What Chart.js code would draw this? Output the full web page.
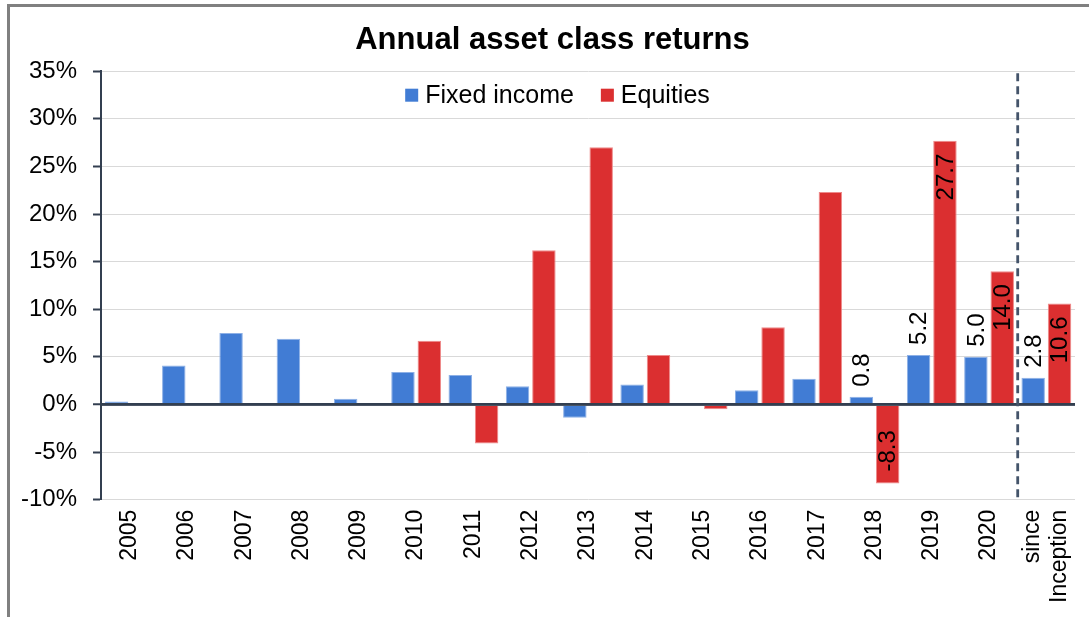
<!DOCTYPE html>
<html>
<head>
<meta charset="utf-8">
<script src="https://cdn.jsdelivr.net/npm/chart.js@4.4.1/dist/chart.umd.min.js"></script>
<style>
  html, body { margin: 0; padding: 0; background: #ffffff; overflow: hidden; width: 1089px; height: 617px; position: relative; }
  #frame { position: absolute; left: 7px; top: 4px; width: 1100px; height: 640px;
           border-top: 3px solid #808080; border-left: 3px solid #808080; background: #fff; }
  #clip { position: absolute; left: 0; top: 7px; width: 1077px; height: 610px; overflow: hidden; }
  #wrap { position: absolute; left: -8px; top: 0; width: 1121px; height: 610px; }
</style>
</head>
<body>
<div id="frame"></div>
<div id="clip"><div id="wrap"><canvas id="c"></canvas></div></div>
<script>
// ---- data ----
const categories = ['2005','2006','2007','2008','2009','2010','2011','2012','2013','2014','2015','2016','2017','2018','2019','2020',['since','Inception']];
const fixedIncome = [0.3, 4.1, 7.5, 6.9, 0.6, 3.4, 3.1, 1.9, -1.4, 2.1, 0.0, 1.5, 2.7, 0.8, 5.2, 5.0, 2.8];
const equities    = [null, null, null, null, null, 6.7, -4.1, 16.2, 27.0, 5.2, -0.5, 8.1, 22.3, -8.3, 27.7, 14.0, 10.6];
const seriesNames = ['Fixed income', 'Equities'];
const labelledIndices = [13, 14, 15, 16];
const dividerAfterIndex = 15;
const yTicks = { min: -10, max: 35, step: 5 };
const chartTitle = 'Annual asset class returns';

// ---- styles ----
const FONT = "'Liberation Sans', Arial, sans-serif";
const BLUE = '#417cd4';
const RED = '#db2f30';
const AXIS = '#333f50';
const GRID = '#d9d9d9';

const tweakPlugin = {
  id: 'tweak',
  afterLayout(chart) {
    // title is centred on the full (cropped) chart width in the reference
    const t = chart.titleBlock;
    if (t) { t.left += 12.5; t.right += 12.5; }
  },
  beforeDraw(chart) {
    // centre multi-line rotated category labels on their tick
    const xs = chart.scales.x;
    xs.getLabelItems().forEach(it => {
      if (Array.isArray(it.label) && it.label.length > 1 && !it._centred) {
        it.options.translation[0] -= (it.label.length - 1) * it.font.lineHeight / 2;
        it._centred = true;
      }
    });
  }
};

const overlayPlugin = {
  id: 'overlay',
  afterDatasetsDraw(chart) {
    const ctx = chart.ctx;
    const area = chart.chartArea;
    const ys = chart.scales.y, xs = chart.scales.x;
    ctx.save();
    // zero line on top of bars
    const y0 = ys.getPixelForValue(0);
    ctx.strokeStyle = AXIS; ctx.lineWidth = 2.5;
    ctx.beginPath(); ctx.moveTo(area.left, y0); ctx.lineTo(area.right, y0); ctx.stroke();
    // dashed divider
    const xd = xs.getPixelForValue(dividerAfterIndex + 0.5);
    ctx.strokeStyle = '#44546a'; ctx.lineWidth = 2.8; ctx.setLineDash([8, 5]);
    ctx.beginPath(); ctx.moveTo(xd, area.top + 2); ctx.lineTo(xd, area.bottom); ctx.stroke();
    ctx.setLineDash([]);
    // value labels
    ctx.font = '24px ' + FONT;
    ctx.fillStyle = '#000';
    ctx.textBaseline = 'middle';
    chart.data.datasets.forEach((ds, d) => {
      const meta = chart.getDatasetMeta(d);
      labelledIndices.forEach(i => {
        const v = ds.data[i];
        if (v === null || v === undefined) return;
        const el = meta.data[i];
        const p = el.getProps(['x', 'y', 'base'], true);
        const txt = v.toFixed(1);
        ctx.save();
        if (d === 0) {
          ctx.translate(p.x, p.y - 10);
          ctx.rotate(-Math.PI / 2);
          ctx.textAlign = 'left';
        } else if (v >= 0) {
          ctx.translate(p.x, p.y + 13);
          ctx.rotate(-Math.PI / 2);
          ctx.textAlign = 'right';
        } else {
          ctx.translate(p.x, p.y - 12);
          ctx.rotate(-Math.PI / 2);
          ctx.textAlign = 'left';
        }
        ctx.fillText(txt, 0, 1);
        ctx.restore();
      });
    });
    // legend (inside plot area)
    ctx.font = '25px ' + FONT;
    ctx.textAlign = 'left';
    ctx.textBaseline = 'middle';
    const box = 13, gapText = 7, gapItem = 27;
    const items = chart.data.datasets.map(ds => ({ label: ds.label, color: ds.backgroundColor, w: ctx.measureText(ds.label).width }));
    const total = items.reduce((s, it) => s + box + gapText + it.w, 0) + gapItem * (items.length - 1);
    const t = chart.titleBlock;
    let x = (t.left + t.right) / 2 + 5 - total / 2;
    const yc = area.top + 24;
    items.forEach(it => {
      ctx.fillStyle = it.color;
      ctx.fillRect(x, yc - box / 2, box, box);
      ctx.fillStyle = '#000';
      ctx.fillText(it.label, x + box + gapText, yc + 1);
      x += box + gapText + it.w + gapItem;
    });
    ctx.restore();
  }
};

new Chart(document.getElementById('c'), {
  type: 'bar',
  data: {
    labels: categories,
    datasets: [
      { label: seriesNames[0], data: fixedIncome, backgroundColor: BLUE, borderColor: '#8db0e6', borderWidth: 1,
        categoryPercentage: 0.92, barPercentage: 0.89 },
      { label: seriesNames[1], data: equities, backgroundColor: RED, borderColor: '#ee8a8a', borderWidth: 1,
        categoryPercentage: 0.92, barPercentage: 0.89 }
    ]
  },
  options: {
    responsive: true,
    maintainAspectRatio: false,
    animation: false,
    devicePixelRatio: 1,
    layout: { padding: { left: 13, right: 38, top: 0, bottom: 4 } },
    plugins: {
      legend: { display: false },
      tooltip: { enabled: false },
      title: {
        display: true, text: chartTitle, color: '#000',
        font: { family: FONT, size: 31, weight: 'bold' },
        padding: { top: 15, bottom: 12 }
      }
    },
    scales: {
      x: {
        grid: { display: false, drawTicks: false },
        border: { display: false },
        ticks: { color: '#000', font: { family: FONT, size: 23 }, maxRotation: 90, minRotation: 90, padding: 10, autoSkip: false }
      },
      y: {
        min: yTicks.min, max: yTicks.max,
        border: { display: true, color: AXIS, width: 2 },
        grid: {
          color: c => (c.tick && c.tick.value === 0) ? AXIS : GRID,
          lineWidth: c => (c.tick && c.tick.value === 0) ? 2.5 : 1,
          tickColor: AXIS, tickLength: 8, tickWidth: 2
        },
        ticks: { stepSize: yTicks.step, color: '#000', font: { family: FONT, size: 24 }, padding: 16,
                 callback: v => v + '%' }
      }
    }
  },
  plugins: [tweakPlugin, overlayPlugin]
});
</script>
</body>
</html>
